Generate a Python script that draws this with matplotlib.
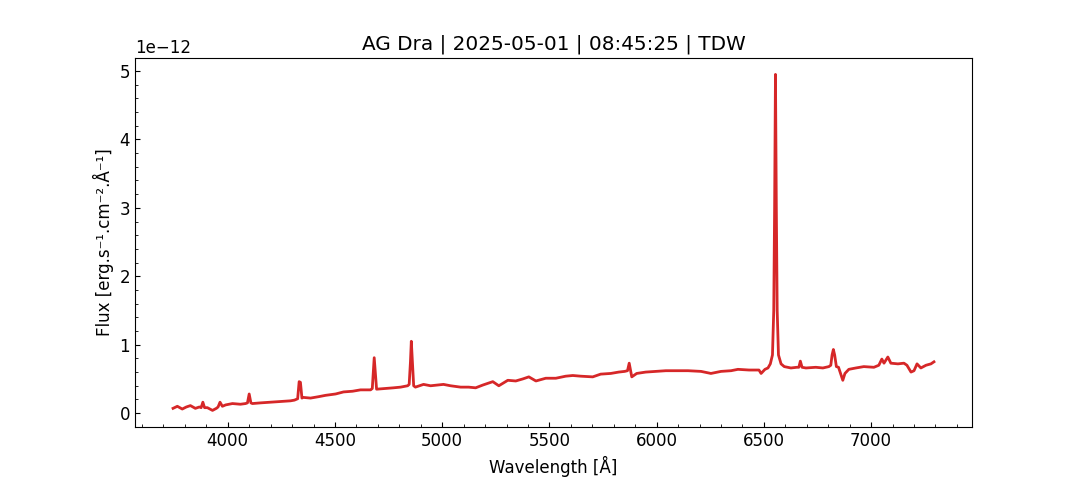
import numpy as np
import matplotlib.pyplot as plt

plt.rcParams['font.size'] = 12

# Spectrum (wavelength in Angstrom, flux in 1e-12 units)
wave = [
    3745, 3765, 3788, 3807, 3826, 3849, 3868, 3876, 3884, 3892, 3905, 3929,
    3947, 3955, 3964, 3975, 3990, 4022, 4059, 4083, 4092, 4100, 4108, 4115,
    4153, 4199, 4246, 4293, 4311, 4326, 4333, 4339, 4346, 4352, 4386, 4423,
    4456, 4503, 4540, 4582, 4619, 4666, 4674, 4679, 4683, 4688, 4694, 4736,
    4773, 4806, 4839, 4846, 4852, 4856, 4861, 4867, 4875, 4913, 4946, 5006,
    5039, 5086, 5123, 5156, 5189, 5236, 5264, 5306, 5343, 5376, 5404, 5437,
    5483, 5530, 5576, 5609, 5646, 5702, 5739, 5786, 5823, 5851, 5864, 5872,
    5884, 5907, 5949, 5996, 6043, 6090, 6146, 6207, 6253, 6300, 6347, 6379,
    6431, 6477, 6487, 6505, 6519, 6530, 6540, 6546, 6550, 6554, 6558, 6562,
    6568, 6580, 6595, 6626, 6654, 6663, 6670, 6678, 6696, 6742, 6775, 6803,
    6812, 6818, 6824, 6830, 6838, 6848, 6868, 6878, 6896, 6929, 6966, 7013,
    7036, 7050, 7060, 7078, 7092, 7125, 7153, 7167, 7186, 7200, 7214, 7232,
    7256, 7279, 7293,
]
flux = [
    0.07, 0.10, 0.06, 0.09, 0.11, 0.07, 0.09, 0.08, 0.16, 0.08, 0.08, 0.04,
    0.07, 0.09, 0.16, 0.10, 0.12, 0.14, 0.13, 0.14, 0.15, 0.28, 0.15, 0.14,
    0.15, 0.16, 0.17, 0.18, 0.19, 0.21, 0.46, 0.45, 0.22, 0.23, 0.22, 0.24,
    0.26, 0.28, 0.31, 0.32, 0.34, 0.34, 0.36, 0.60, 0.81, 0.60, 0.35, 0.36,
    0.37, 0.38, 0.40, 0.42, 0.75, 1.05, 0.75, 0.40, 0.38, 0.42, 0.40, 0.42,
    0.40, 0.38, 0.38, 0.37, 0.41, 0.46, 0.40, 0.48, 0.47, 0.50, 0.53, 0.47,
    0.51, 0.51, 0.54, 0.55, 0.54, 0.53, 0.57, 0.58, 0.60, 0.61, 0.62, 0.73,
    0.53, 0.58, 0.60, 0.61, 0.62, 0.62, 0.62, 0.61, 0.58, 0.61, 0.62, 0.64,
    0.63, 0.63, 0.58, 0.64, 0.66, 0.72, 0.85, 1.50, 3.00, 4.95, 3.00, 1.50,
    0.85, 0.72, 0.68, 0.66, 0.67, 0.67, 0.76, 0.67, 0.66, 0.67, 0.66, 0.68,
    0.70, 0.85, 0.93, 0.85, 0.68, 0.67, 0.48, 0.58, 0.64, 0.66, 0.68, 0.67,
    0.70, 0.79, 0.73, 0.82, 0.73, 0.72, 0.73, 0.70, 0.60, 0.62, 0.72, 0.66,
    0.70, 0.72, 0.75,
]

wave = np.array(wave)
flux = np.array(flux) * 1e-12

fig, ax = plt.subplots(figsize=(10.8, 4.8), dpi=100)
ax.plot(wave, flux, color='#d62728', linewidth=2)

ax.set_title("AG Dra | 2025-05-01 | 08:45:25 | TDW")
ax.set_xlabel("Wavelength [Å]")
ax.set_ylabel("Flux [erg.s⁻¹.cm⁻².Å⁻¹]")
ax.minorticks_on()
ax.tick_params(which='both', direction='in')

plt.savefig('out.png')
